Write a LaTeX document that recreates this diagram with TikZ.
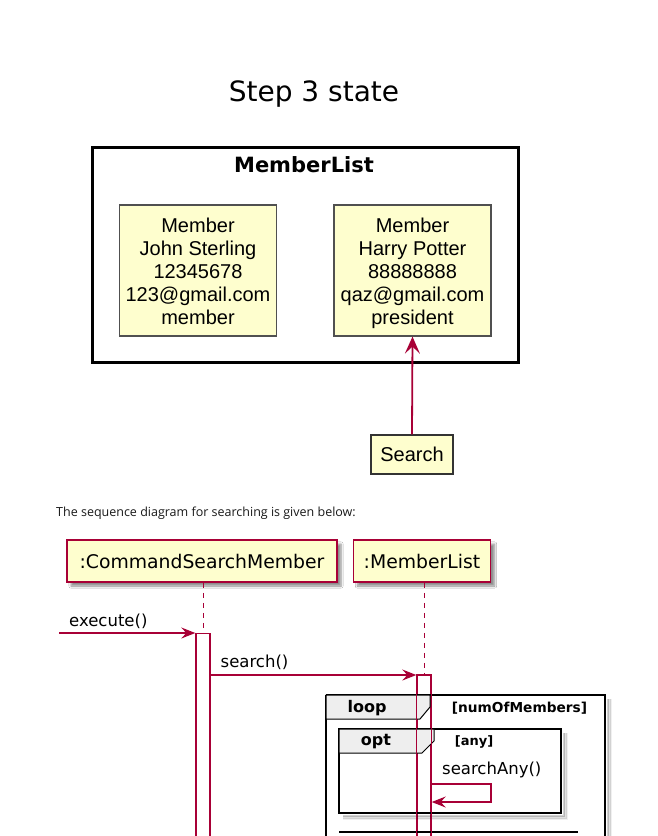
\documentclass[tikz,border=0pt]{standalone}
\usepackage{fontspec}
\setmainfont{DejaVu Sans}
\newfontfamily\arialf{Liberation Sans}
\newfontfamily\notef{Open Sans}
\usetikzlibrary{arrows.meta,shadows,shadows.blur,calc}
\definecolor{umlfill}{HTML}{FEFECE}
\definecolor{umlred}{HTML}{A80036}
\definecolor{tabgray}{HTML}{EEEEEE}
\definecolor{boxgray}{HTML}{505050}
\newcommand{\topgap}{\rule{0pt}{22pt}}
\tikzset{
  memberbox/.style={draw=boxgray, line width=1.2pt, fill=umlfill, inner sep=0pt,
    minimum width=157pt, minimum height=131pt, align=center,
    font=\fontsize{20}{23}\selectfont\arialf},
  searchbox/.style={draw=black!80, line width=1.2pt, fill=umlfill, inner sep=0pt,
    minimum width=82pt, minimum height=39pt, font=\fontsize{20}{23}\selectfont\arialf},
  participant/.style={draw=umlred, line width=1.5pt, fill=umlfill, inner sep=0pt,
    minimum height=42pt, font=\fontsize{18.8}{22}\selectfont,
    blur shadow={shadow xshift=4pt, shadow yshift=-4pt, shadow blur steps=6, shadow opacity=45}},
  lifeline/.style={draw=umlred, line width=1pt, dash pattern=on 5pt off 5pt},
  actbox/.style={draw=umlred, line width=1.4pt, fill=white, inner sep=0pt,
    minimum width=14pt, minimum height=230pt, anchor=north},
  actedge/.style={draw=umlred, line width=1.4pt},
  msg/.style={draw=umlred, line width=1.3pt, -{Stealth[length=14pt,width=11pt,inset=5pt]}},
  msglabel/.style={font=\fontsize{16.5}{20}\selectfont, inner sep=0pt, anchor=west},
  framebox/.style={draw=black, line width=2.6pt},
  tabshape/.style={draw=black, line width=1pt, fill=tabgray},
  tablabel/.style={font=\bfseries\fontsize{16}{19}\selectfont, inner sep=0pt},
  condlabel/.style={font=\bfseries\fontsize{13.7}{16}\selectfont, inner sep=0pt},
  fshadow/.style={draw=black, line cap=butt},
}
\begin{document}
\begin{tikzpicture}[x=1pt,y=-1pt]
\clip (0,0) rectangle (658,836);
\fill[white] (0,0) rectangle (658,836);

% ---------- title ----------
\node[font=\fontsize{28}{33}\selectfont, inner sep=0pt] (title) at (314,94) {Step 3 state};

% ---------- MemberList package ----------
\node[draw=black, line width=3pt, minimum width=426pt, minimum height=215pt, inner sep=0pt] (mlframe) at (305,254.5) {};
\node[font=\bfseries\fontsize{21}{25}\selectfont, inner sep=0pt] (mltitle) at (304,165) {MemberList};

\node[memberbox] (m1) at (198,270.5) {\topgap Member\\John Sterling\\12345678\\123@gmail.com\\member\strut};
\node[memberbox] (m2) at (412.5,270.5) {\topgap Member\\Harry Potter\\88888888\\qaz@gmail.com\\president\strut};

\node[searchbox] (search) at (412,454.5) {Search};
\draw[umlred, line width=1.8pt, -{Stealth[length=17pt,width=15pt,inset=7pt]}] (search.north) -- (m2.south);

% ---------- note text ----------
\node[font=\fontsize{12.5}{15}\selectfont\notef, text=black!90, anchor=west, inner sep=0pt] (note) at (56,513.5) {The sequence diagram for searching is given below:};

% ---------- participants ----------
\node[participant, minimum width=270pt] (csm) at (202,561) {:CommandSearchMember};
\node[participant, minimum width=137pt] (mlp) at (422,561) {:MemberList};

% lifelines
\node[actbox] (actA) at (203,633) {};
\node[actbox] (actB) at (424,675) {};
\draw[lifeline] (csm.south -| actA.north) -- (actA.north);
\draw[lifeline] (mlp.south -| actB.north) -- (actB.north);

% execute()
\coordinate (exstart) at (59,633);
\draw[msg] (exstart) -- (actA.north west);
\node[msglabel] (exlabel) at (69,621) {execute()};

% search()
\draw[msg] (actA.east |- actB.north) -- (actB.north west);
\node[msglabel] (srlabel) at (220.5,662) {search()};

% ---------- loop frame ----------
% shadows
\foreach \o/\a in {3/0.18,4.5/0.12,6/0.06}{
  \draw[fshadow, line width=2.5pt, opacity=\a] (605+\o,699) -- (605+\o,840);
  \draw[fshadow, line width=2.5pt, opacity=\a] (561+\o,733) -- (561+\o,813+\o) -- (343,813+\o);
}
\draw[framebox] (326,695) -- (605,695) -- (605,845);
\draw[framebox] (326,695) -- (326,845);
\path[tabshape] (326,695) -- (430,695) -- (430,707) -- (420,719) -- (326,719) -- cycle;
\node[tablabel] (looplabel) at (367,708.5) {loop};
\node[condlabel] (loopcond) at (519.5,708) {[numOfMembers]};

% ---------- opt frame ----------
\draw[framebox] (339,729) rectangle (561,813);
\path[tabshape] (339,729) -- (434,729) -- (434,741) -- (422,753) -- (339,753) -- cycle;
\node[tablabel] (optlabel) at (376,742) {opt};
\node[condlabel, font=\bfseries\fontsize{13}{16}\selectfont] (optcond) at (474,742) {[any]};

% next frame top edge
\draw[framebox] (339,832) -- (578,832);

% activation outlines over frames
\draw[actedge] (actA.north west) -- (actA.south west) (actA.north east) -- (actA.south east);
\draw[actedge] (actB.north west) -- (actB.south west) (actB.north east) -- (actB.south east) (actB.north west) -- (actB.north east);

% searchAny() self message
\coordinate (sa1) at ($(actB.east |- 0,784)+(0,0)$);
\coordinate (sa2) at (491,784);
\coordinate (sa3) at (491,802);
\draw[msg] (actB.east |- sa1) -- (sa2) -- (sa3) -- (actB.east |- sa3);
\node[msglabel] (salabel) at (442,770) {searchAny()};
\end{tikzpicture}
\end{document}
